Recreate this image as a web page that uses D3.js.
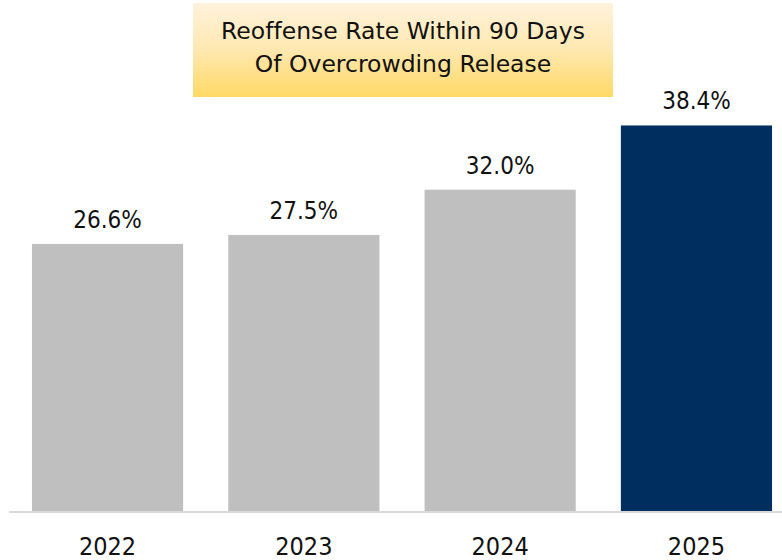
<!DOCTYPE html>
<html><head><meta charset="utf-8">
<script src="https://cdn.jsdelivr.net/npm/d3@7"></script>
<style>body{margin:0;background:#fff}svg{display:block}text{font-variant-ligatures:none}</style>
</head><body>
<svg id="c" width="782" height="560"></svg>
<script>
const categories = ["2022","2023","2024","2025"];
const values = [26.6, 27.5, 32.0, 38.4];
const labels = ["26.6%","27.5%","32.0%","38.4%"];
const titleLines = ["Reoffense Rate Within 90 Days","Of Overcrowding Release"];
const barColors = ["#bfbfbf","#bfbfbf","#bfbfbf","#002f5f"];

const svg = d3.select("#c");
const font = "'DejaVu Sans Condensed','DejaVu Sans',sans-serif";
const titleFont = "'DejaVu Sans',sans-serif";
const x = d3.scaleBand().domain(categories).range([9.4, 794.6]).paddingInner(0.23).paddingOuter(0.115);
const y = d3.scaleLinear().domain([0, 40]).range([511, 109.4]);

const defs = svg.append("defs");
const g = defs.append("linearGradient").attr("id","tg").attr("x1",0).attr("y1",0).attr("x2",0).attr("y2",1);
g.append("stop").attr("offset","0%").attr("stop-color","#fff2dc");
g.append("stop").attr("offset","50%").attr("stop-color","#ffe8b0");
g.append("stop").attr("offset","100%").attr("stop-color","#ffd966");

svg.append("rect").attr("x",193).attr("y",3).attr("width",420).attr("height",94).attr("fill","url(#tg)");
svg.append("g").selectAll("text").data(titleLines).join("text")
  .attr("x",403).attr("y",(d,i)=>39+i*33).attr("text-anchor","middle")
  .attr("font-family",titleFont).attr("font-size",23.5).attr("fill","#111").text(d=>d);

svg.append("g").selectAll("rect").data(values).join("rect")
  .attr("x",(d,i)=>x(categories[i])).attr("width",x.bandwidth())
  .attr("y",d=>y(d)).attr("height",d=>y(0)-y(d)).attr("fill",(d,i)=>barColors[i]);

svg.append("line").attr("x1",9).attr("x2",782).attr("y1",512).attr("y2",512)
  .attr("stroke","#d9d9d9").attr("stroke-width",2);

svg.append("g").selectAll("text").data(values).join("text")
  .attr("x",(d,i)=>x(categories[i])+x.bandwidth()/2).attr("y",d=>y(d)-16)
  .attr("text-anchor","middle").attr("font-family",font).attr("font-size",24).attr("fill","#111")
  .text((d,i)=>labels[i]);

const ax = svg.append("g").attr("transform","translate(0,512)").call(d3.axisBottom(x).tickSize(0).tickPadding(0));
ax.select(".domain").remove();
ax.selectAll("text").attr("y",43).attr("dy",0).attr("font-family",font).attr("font-size",25).attr("fill","#111");
</script>
</body></html>
